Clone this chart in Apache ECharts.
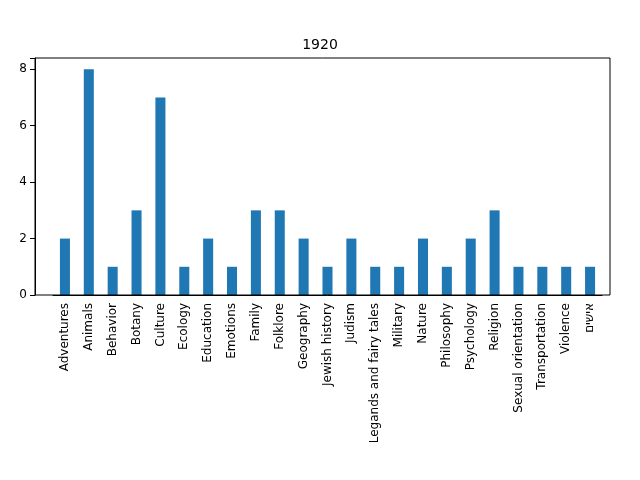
<!DOCTYPE html><html><head><script src="https://cdn.jsdelivr.net/npm/echarts@6/dist/echarts.min.js"></script></head><body style="margin:0"><div id="c" style="width:640px;height:480px"></div><script>
const categories=["Adventures","Animals","Behavior","Botany","Culture","Ecology","Education","Emotions","Family","Folklore","Geography","Jewish history","Judism","Legands and fairy tales","Military","Nature","Philosophy","Psychology","Religion","Sexual orientation","Transportation","Violence","אישים"];
const values=[2,8,1,3,7,1,2,1,3,3,2,1,2,1,1,2,1,2,3,1,1,1,1];
const f='DejaVu Sans';
echarts.init(document.getElementById('c')).setOption({animation:false,
title:{text:'1920',left:'center',top:33,textStyle:{fontFamily:f,fontSize:14,fontWeight:'normal',color:'#000'}},
graphic:[{type:'rect',shape:{x:35,y:58,width:575,height:237},style:{fill:'none',stroke:'#000',lineWidth:1},z:100}],
grid:{left:53,right:38,top:58,bottom:185},
xAxis:{type:'category',data:categories,axisTick:{alignWithLabel:true,lineStyle:{color:'#000'}},axisLine:{lineStyle:{color:'#000'}},axisLabel:{rotate:90,interval:0,fontFamily:f,fontSize:12,color:'#000'}},
yAxis:{type:'value',min:0,max:8.4,interval:2,offset:18,splitLine:{show:false},axisLine:{show:true,lineStyle:{color:'#000'}},axisTick:{show:true,lineStyle:{color:'#000'}},axisLabel:{fontFamily:f,fontSize:12,color:'#000',formatter:v=>v%2===0?v:''}},
series:[{type:'bar',data:values,barWidth:'42%',itemStyle:{color:'#1f77b4'}}]});
</script></body></html>
